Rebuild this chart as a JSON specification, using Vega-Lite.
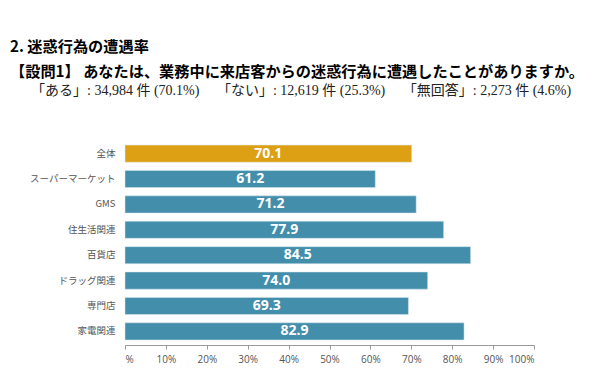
{
  "$schema": "https://vega.github.io/schema/vega-lite/v6.json",
  "autosize": "none",
  "width": 409,
  "height": 205,
  "padding": {"left": 125, "top": 140, "right": 62, "bottom": 39},
  "background": "white",
  "view": {"stroke": null},
  "title": {
    "text": ["2. 迷惑行為の遭遇率", "【設問1】 あなたは、業務中に来店客からの迷惑行為に遭遇したことがありますか。"],
    "subtitle": "\u200b\u00a0\u00a0\u00a0\u00a0\u00a0\u00a0「ある」: 34,984 件 (70.1%)\u00a0\u00a0\u00a0\u00a0\u00a0「ない」: 12,619 件 (25.3%)\u00a0\u00a0\u00a0\u00a0\u00a0「無回答」: 2,273 件 (4.6%)",
    "anchor": "start",
    "frame": "group",
    "dx": -115,
    "offset": 42,
    "font": "Noto Sans CJK JP",
    "fontSize": 15.2,
    "fontWeight": "bold",
    "color": "#000000",
    "lineHeight": 25,
    "subtitleFont": "Liberation Serif, Noto Sans CJK JP",
    "subtitleFontSize": 14,
    "subtitleColor": "#222222",
    "subtitlePadding": 4
  },
  "data": {
    "values": [
      {"category": "全体", "value": 70.1, "label": "70.1", "group": "total"},
      {"category": "スーパーマーケット", "value": 61.2, "label": "61.2", "group": "store"},
      {"category": "GMS", "value": 71.2, "label": "71.2", "group": "store"},
      {"category": "住生活関連", "value": 77.9, "label": "77.9", "group": "store"},
      {"category": "百貨店", "value": 84.5, "label": "84.5", "group": "store"},
      {"category": "ドラッグ関連", "value": 74.0, "label": "74.0", "group": "store"},
      {"category": "専門店", "value": 69.3, "label": "69.3", "group": "store"},
      {"category": "家電関連", "value": 82.9, "label": "82.9", "group": "store"}
    ]
  },
  "encoding": {
    "y": {
      "field": "category",
      "type": "nominal",
      "sort": null,
      "scale": {"paddingInner": 0.325, "paddingOuter": 0.2},
      "axis": {
        "title": null,
        "domain": false,
        "ticks": false,
        "labelPadding": 10,
        "labelFont": "Noto Sans CJK JP",
        "labelFontSize": 9.5,
        "labelColor": "#555555"
      }
    }
  },
  "layer": [
    {
      "mark": {"type": "bar", "stroke": "#d9e8ee", "strokeWidth": 0.5},
      "encoding": {
        "x": {
          "field": "value",
          "type": "quantitative",
          "scale": {"domain": [0, 100]},
          "axis": {
            "title": null,
            "values": [0, 10, 20, 30, 40, 50, 60, 70, 80, 90, 100],
            "labelExpr": "datum.value == 0 ? '%' : datum.value + '%'",
            "grid": false,
            "domainColor": "#999999",
            "tickColor": "#999999",
            "tickSize": 4,
            "labelFont": "Open Sans",
            "labelFontSize": 10,
            "labelColor": "#555555",
            "labelPadding": 5
          }
        },
        "color": {
          "field": "group",
          "type": "nominal",
          "scale": {"domain": ["total", "store"], "range": ["#DDA015", "#438FAB"]},
          "legend": null
        }
      }
    },
    {
      "mark": {"type": "text", "font": "Open Sans", "fontWeight": "bold", "fontSize": 14, "color": "white", "align": "center", "baseline": "middle"},
      "encoding": {
        "x": {"field": "value", "type": "quantitative", "scale": {"domain": [0, 200]}, "axis": null},
        "text": {"field": "label", "type": "nominal"}
      }
    }
  ],
  "resolve": {"scale": {"x": "independent"}, "axis": {"x": "independent"}}
}
